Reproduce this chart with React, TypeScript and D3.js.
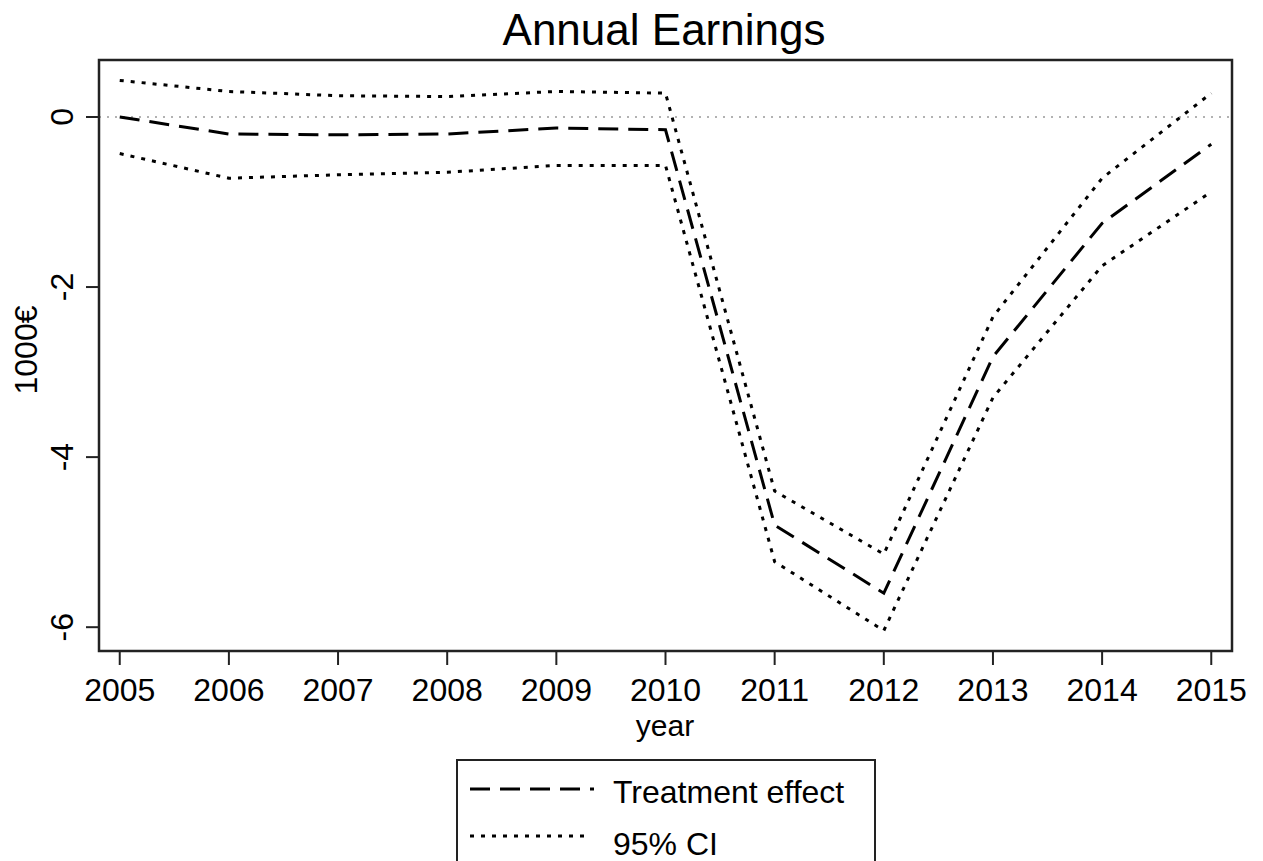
import React from "react";
import * as d3 from "d3";

const years = [2005, 2006, 2007, 2008, 2009, 2010, 2011, 2012, 2013, 2014, 2015];
const effect = [0, -0.2, -0.21, -0.2, -0.13, -0.15, -4.8, -5.6, -2.82, -1.25, -0.32];
const upperCI = [0.43, 0.3, 0.25, 0.24, 0.3, 0.28, -4.4, -5.14, -2.35, -0.72, 0.28];
const lowerCI = [-0.43, -0.72, -0.68, -0.65, -0.57, -0.57, -5.23, -6.04, -3.3, -1.75, -0.88];
const yTicks = [0, -2, -4, -6];

const W = 1263;
const H = 861;
const left = 99, right = 1232, top = 60, bottom = 651;
const font = "'Liberation Sans', Arial, sans-serif";
const DASH = "20 10";
const DOT = "4 7";

export default function App() {
  const x = d3.scaleLinear().domain([2004.81, 2015.19]).range([left, right]);
  const y = d3.scaleLinear().domain([-6.28, 0.67]).range([bottom, top]);
  const line = d3
    .line<number>()
    .x((_, i) => x(years[i]))
    .y((d) => y(d));

  return (
    <svg
      width={W}
      height={H}
      style={{ position: "absolute", left: 0, top: 0, display: "block", background: "#fff" }}
      fontFamily={font}
    >
      <rect x={0} y={0} width={W} height={H} fill="#fff" />
      <text x={664} y={45} textAnchor="middle" fontSize={44} fill="#000">
        Annual Earnings
      </text>
      {/* zero reference line */}
      <line
        x1={left}
        x2={right}
        y1={y(0)}
        y2={y(0)}
        stroke="#999"
        strokeWidth={1.5}
        strokeDasharray="2 6"
      />
      <path d={line(upperCI) || ""} fill="none" stroke="#000" strokeWidth={3} strokeDasharray={DOT} />
      <path d={line(lowerCI) || ""} fill="none" stroke="#000" strokeWidth={3} strokeDasharray={DOT} />
      <path d={line(effect) || ""} fill="none" stroke="#000" strokeWidth={3} strokeDasharray={DASH} />
      {/* frame */}
      <rect x={left} y={top} width={right - left} height={bottom - top} fill="none" stroke="#222" strokeWidth={2.5} />
      {/* y ticks */}
      {yTicks.map((t) => (
        <g key={t}>
          <line x1={86} x2={left} y1={y(t)} y2={y(t)} stroke="#222" strokeWidth={2} />
          <text
            transform={`translate(73,${y(t)}) rotate(-90)`}
            textAnchor="middle"
            fontSize={32}
            fill="#000"
          >
            {t === 0 ? "0" : `-${Math.abs(t)}`}
          </text>
        </g>
      ))}
      <text transform={`translate(37,350) rotate(-90)`} textAnchor="middle" fontSize={32} fill="#000">
        1000€
      </text>
      {/* x ticks */}
      {years.map((yr) => (
        <g key={yr}>
          <line x1={x(yr)} x2={x(yr)} y1={bottom} y2={665} stroke="#222" strokeWidth={2} />
          <text x={x(yr)} y={701} textAnchor="middle" fontSize={32} fill="#000">
            {yr}
          </text>
        </g>
      ))}
      <text x={665} y={736} textAnchor="middle" fontSize={30} fill="#000">
        year
      </text>
      {/* legend */}
      <rect x={457} y={760} width={418} height={120} fill="none" stroke="#222" strokeWidth={2} />
      <line x1={470} x2={594} y1={789} y2={789} stroke="#000" strokeWidth={3} strokeDasharray={DASH} />
      <text x={613} y={803} fontSize={32} fill="#000">
        Treatment effect
      </text>
      <line x1={470} x2={590} y1={836} y2={836} stroke="#000" strokeWidth={3} strokeDasharray={DOT} />
      <text x={613} y={855} fontSize={32} fill="#000">
        95% CI
      </text>
    </svg>
  );
}
